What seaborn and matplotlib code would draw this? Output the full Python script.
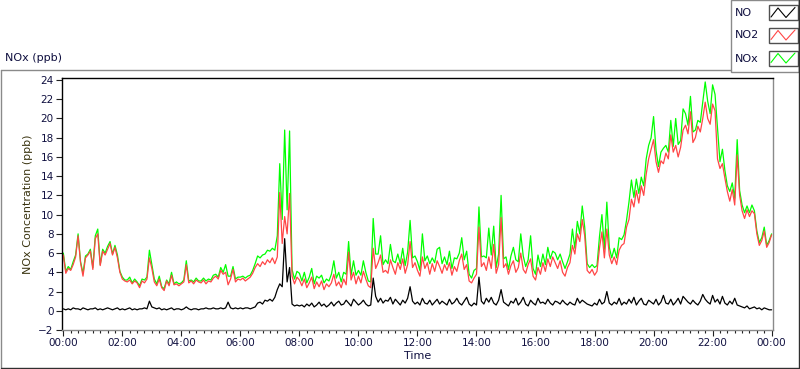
import numpy as np
import pandas as pd
import matplotlib
matplotlib.use("Agg")
import matplotlib.pyplot as plt
from matplotlib.lines import Line2D
from matplotlib.patches import Rectangle
from matplotlib.ticker import MultipleLocator, FuncFormatter
import seaborn as sns

# ---------------------------
# Data: 5-minute readings, 00:00 .. 24:00 (ppb)
# ---------------------------
NO2 = [
    5.8, 3.9, 4.4, 4.2, 4.8, 5.6, 7.8, 5.0, 3.6, 5.5, 5.8, 6.2,
    4.3, 7.5, 8.0, 4.7, 6.2, 5.8, 6.4, 7.0, 5.8, 6.6, 5.5, 4.0,
    3.3, 3.1, 3.0, 3.2, 2.8, 3.1, 2.9, 2.4, 3.1, 2.9, 3.3, 5.5,
    4.4, 3.0, 2.6, 3.3, 2.4, 2.1, 3.1, 2.6, 3.7, 2.7, 2.8, 2.6,
    2.8, 3.0, 4.8, 2.9, 3.1, 2.8, 3.2, 3.0, 2.9, 3.2, 2.8, 3.1,
    3.0, 3.4, 3.6, 3.3, 4.2, 3.8, 4.0, 2.7, 3.3, 4.3, 3.0, 3.3,
    3.2, 3.4, 3.1, 3.3, 3.5, 3.9, 4.5, 4.9, 4.6, 5.1, 4.8, 5.3,
    5.0, 5.5, 4.9, 5.6, 12.3, 7.0, 9.8, 8.0, 12.2, 3.6, 2.8, 3.5,
    3.2, 2.6, 3.3, 2.4, 2.9, 3.5, 2.3, 3.0, 2.5, 3.1, 2.2, 2.8,
    2.5, 2.9, 3.8, 2.6, 3.0, 2.4, 3.3, 2.7, 6.1, 3.2, 4.0, 2.8,
    3.6, 2.9, 4.1, 3.3, 2.6, 2.4, 6.5, 4.4, 5.0, 5.8, 4.0, 4.2,
    3.9, 5.3, 4.5, 3.8, 5.0, 4.3, 5.4, 3.9, 4.8, 7.2, 4.5, 5.0,
    4.2, 3.6, 5.6, 4.4, 5.0, 3.8, 4.9, 4.1, 5.2, 4.6, 3.9, 4.8,
    4.2, 5.0, 3.7, 4.6, 4.1, 5.2, 5.9, 4.3, 4.8, 3.1, 2.9, 3.4,
    3.8, 8.7, 4.6, 5.0, 4.2, 5.6, 4.4, 6.9, 3.9, 4.8, 9.7, 4.5,
    4.9, 3.8, 4.7, 5.2, 4.0, 4.5, 6.0, 4.3, 3.9, 4.8, 5.4, 3.6,
    3.2, 4.5, 3.8, 5.0, 4.1, 5.4, 4.6, 5.6, 5.0, 4.4, 5.2, 4.0,
    3.6, 4.5, 5.0, 6.8, 5.9, 8.0, 7.2, 9.5, 7.8, 4.2, 3.9, 4.3,
    3.7, 4.1, 6.5, 8.2, 5.5, 8.5, 5.8, 4.9, 5.6, 4.8, 6.3, 6.8,
    7.0, 8.7, 9.5, 11.6, 10.8, 12.5, 11.2, 13.0, 12.0, 14.2, 15.8, 16.8,
    17.8, 15.5, 14.4, 15.6, 15.3, 16.4, 15.8, 18.3, 16.5, 17.2, 16.0, 17.0,
    18.8, 19.3, 18.4, 20.7, 17.5, 18.0, 19.2, 18.6, 20.0, 21.7, 20.0, 19.4,
    21.5, 20.8, 15.8, 14.8, 15.3, 13.8, 12.4, 11.4, 12.6, 11.0, 16.2, 12.0,
    10.4, 9.6, 10.5, 9.8, 10.4, 10.1, 8.0, 6.8, 7.3, 8.3, 6.6, 7.1,
    7.9,
]

NOX = [
    6.0, 4.1, 4.6, 4.3, 5.1, 5.8, 8.0, 5.1, 3.9, 5.7, 5.9, 6.4,
    4.5, 7.8, 8.5, 4.8, 6.4, 6.0, 6.7, 7.2, 5.9, 6.8, 5.8, 4.1,
    3.5, 3.2, 3.2, 3.5, 2.9, 3.3, 3.0, 2.6, 3.3, 3.2, 3.5, 6.3,
    4.8, 3.3, 2.8, 3.6, 2.5, 2.3, 3.2, 2.8, 4.0, 2.8, 3.0, 2.8,
    2.9, 3.2, 5.2, 3.1, 3.2, 3.0, 3.4, 3.1, 3.1, 3.4, 3.1, 3.3,
    3.2, 3.7, 3.8, 3.5, 4.5, 4.0, 4.8, 3.6, 3.6, 4.6, 3.3, 3.5,
    3.5, 3.6, 3.4, 3.6, 3.7, 4.2, 4.9, 5.7, 5.5, 5.8, 5.9, 6.3,
    6.2, 6.5, 6.3, 7.8, 15.3, 9.5, 18.8, 10.5, 18.7, 4.3, 3.3, 4.1,
    3.9, 3.1, 4.0, 2.9, 3.5, 4.4, 2.8, 3.6, 3.4, 3.7, 2.9, 3.3,
    3.1, 3.8, 5.2, 3.4, 4.0, 3.0, 4.0, 3.8, 7.2, 3.7, 5.2, 3.7,
    4.2, 3.7, 5.2, 4.0, 3.1, 3.0, 9.6, 5.9, 5.9, 7.8, 4.8, 5.3,
    4.9, 6.9, 5.2, 5.0, 5.9, 4.9, 6.5, 4.7, 6.1, 9.4, 5.5, 5.7,
    5.1, 4.2, 8.0, 5.2, 5.7, 4.9, 5.5, 5.0, 6.4, 6.6, 4.9, 5.6,
    4.8, 6.2, 4.4, 5.5, 5.4, 6.0, 7.6, 5.3, 6.2, 3.8, 3.4, 4.2,
    4.4, 10.8, 5.6, 5.7, 5.5, 8.6, 5.8, 8.8, 4.5, 5.9, 12.0, 5.4,
    5.6, 4.3, 5.7, 6.6, 5.3, 5.1, 8.0, 5.7, 4.6, 5.3, 7.8, 4.4,
    3.8, 5.8, 4.6, 5.9, 4.8, 6.6, 5.4, 6.2, 6.0, 5.3, 5.9, 5.1,
    4.4, 5.1, 5.9, 8.5, 6.5, 9.3, 8.0, 10.9, 8.7, 4.9, 4.5, 4.8,
    4.5, 4.7, 7.7, 10.0, 6.4, 11.3, 6.6, 5.5, 6.5, 5.5, 7.6, 7.4,
    7.9, 9.4, 11.3, 13.6, 11.8, 13.7, 12.2, 13.9, 13.0, 15.8, 17.2, 18.0,
    20.2, 16.7, 15.0, 16.5, 16.9, 17.2, 16.5, 19.8, 17.1, 20.0, 17.3, 17.7,
    21.0, 20.5, 19.3, 22.3, 18.6, 18.8, 19.8, 19.6, 21.7, 23.8, 21.8, 20.5,
    23.5, 22.5, 19.0, 15.5, 16.8, 14.6, 13.0, 12.4, 13.3, 11.7, 17.8, 12.5,
    11.0, 10.2, 10.9, 10.2, 11.0, 10.4, 8.3, 7.1, 7.6, 8.7, 6.8, 7.3,
    8.0,
]

NO = [
    0.2, 0.1, 0.2, 0.1, 0.3, 0.2, 0.2, 0.1, 0.3, 0.2, 0.1, 0.2,
    0.2, 0.3, 0.1, 0.2, 0.1, 0.2, 0.3, 0.2, 0.1, 0.2, 0.3, 0.1,
    0.2, 0.1, 0.2, 0.3, 0.1, 0.2, 0.1, 0.2, 0.2, 0.3, 0.2, 1.0,
    0.4, 0.3, 0.2, 0.3, 0.1, 0.2, 0.1, 0.2, 0.3, 0.1, 0.2, 0.2,
    0.1, 0.2, 0.4, 0.2, 0.1, 0.2, 0.2, 0.1, 0.2, 0.2, 0.3, 0.2,
    0.2, 0.3, 0.2, 0.2, 0.3, 0.2, 0.3, 0.9, 0.3, 0.2, 0.3, 0.2,
    0.3, 0.2, 0.3, 0.3, 0.2, 0.3, 0.4, 0.8, 0.9, 0.7, 1.1, 1.0,
    1.2, 1.0, 1.4, 2.2, 2.8, 2.5, 7.5, 3.0, 4.5, 0.7, 0.5, 0.6,
    0.5, 0.6, 0.4, 0.7, 0.5, 0.8, 0.4, 0.6, 0.9, 0.5, 0.7, 0.4,
    0.6, 0.9, 0.5, 0.8, 1.0, 0.6, 0.7, 1.1, 0.8, 0.5, 1.2, 0.9,
    0.6, 0.8, 1.1, 0.7, 0.5, 0.6, 3.4, 1.5, 0.9, 1.3, 0.8, 1.1,
    1.0, 1.4, 0.7, 1.2, 0.9, 0.6, 1.1, 0.8, 1.3, 2.5, 1.0, 0.7,
    0.9, 0.6, 1.3, 0.8, 0.7, 1.1, 0.6, 0.9, 1.2, 0.7, 1.0, 0.8,
    0.6, 1.2, 0.7, 0.9, 1.3, 0.8, 0.6, 1.0, 1.4, 0.7, 0.5, 0.8,
    0.6, 3.5, 1.0, 0.7, 1.3, 0.9, 1.4, 0.8, 0.6, 1.1, 2.2, 0.9,
    0.7, 0.5, 1.0, 0.8, 1.3, 0.6, 0.9, 1.4, 0.7, 0.5, 1.1, 0.8,
    0.6, 1.3, 0.8, 0.9, 0.7, 1.2, 0.8, 0.6, 1.0, 0.9, 0.7, 1.1,
    0.8, 0.6, 0.9, 0.7, 0.6, 1.3, 0.8, 1.1, 0.9, 0.7, 0.6, 0.5,
    0.8, 0.6, 1.2, 0.7, 0.9, 2.0, 0.8, 0.6, 0.9, 0.7, 1.3, 0.6,
    0.9, 0.7, 1.2, 0.8, 1.4, 0.6, 1.0, 1.3, 0.7, 0.6, 1.1, 0.9,
    0.7, 1.2, 0.6, 0.9, 1.6, 0.8, 0.7, 1.2, 0.6, 0.9, 1.3, 0.7,
    1.5, 1.2, 0.9, 0.7, 1.1, 0.8, 0.6, 1.0, 1.7, 1.2, 0.9, 0.7,
    1.6, 0.9, 1.2, 0.7, 1.5, 0.8, 0.6, 1.0, 0.7, 1.3, 0.6, 0.5,
    0.4, 0.3, 0.5, 0.2, 0.3, 0.4, 0.2, 0.3, 0.1, 0.3, 0.2, 0.1,
    0.1,
]

SERIES_NAMES = ["NO", "NO2", "NOx"]
SERIES_COLORS = {"NO": "#000000", "NO2": "#ff4646", "NOx": "#00ff00"}

W, H = 800, 369


def px_x(x):
    return x / W


def px_y(y):
    return 1 - y / H


def build_frame():
    hours = np.arange(len(NO2)) / 12.0
    parts = []
    for name, vals in zip(SERIES_NAMES, [NO, NO2, NOX]):
        parts.append(pd.DataFrame({"hour": hours, "value": vals, "series": name}))
    return pd.concat(parts, ignore_index=True)


def hhmm(v, pos):
    return "%02d:00" % (int(round(v)) % 24)


def draw_chrome(fig):
    grey = "#8a8a8a"
    # outer panel frame
    fig.add_artist(Line2D([px_x(0.5), px_x(731)], [px_y(69.5), px_y(69.5)], color=grey, lw=1))
    fig.add_artist(Line2D([px_x(0.5), px_x(0.5)], [px_y(69.5), px_y(368)], color=grey, lw=1))
    fig.add_artist(Line2D([px_x(0.5), px_x(798.5)], [px_y(368), px_y(368)], color="#303030", lw=1))
    fig.add_artist(Line2D([px_x(798.5), px_x(798.5)], [px_y(0), px_y(368)], color="#303030", lw=1))

    # legend box
    fig.add_artist(Rectangle((px_x(731), px_y(71.5)), px_x(67.5), 71.5 / H,
                             facecolor="white", edgecolor=grey, lw=1))
    fig.add_artist(Line2D([px_x(798.5), px_x(798.5)], [px_y(0), px_y(71.5)], color="#303030", lw=1))
    rows = [("NO", 12.5, 5), ("NO2", 35.5, 27.5), ("NOx", 59, 50.5)]
    for name, ty, top in rows:
        fig.text(px_x(735), px_y(ty), name, fontsize=8, color="#101040",
                 ha="left", va="center")
        fig.add_artist(Rectangle((px_x(768.5), px_y(top + 15)), px_x(29), 15 / H,
                                 facecolor="white", edgecolor="#505050", lw=1))
        zx = [771, 778, 786, 795]
        zy = [top + 12, top + 3, top + 12.5, top + 2.5]
        fig.add_artist(Line2D([px_x(v) for v in zx], [px_y(v) for v in zy],
                              color=SERIES_COLORS[name], lw=0.8))

    fig.text(px_x(5), px_y(58), "NOx (ppb)", fontsize=8, color="#101040",
             ha="left", va="center")


def plot_chart(df, out="out.png"):
    sns.set_style("white")
    plt.rcParams["font.family"] = ["DejaVu Sans"]

    fig = plt.figure(figsize=(W / 100, H / 100), dpi=100)
    ax = fig.add_axes([62 / W, 1 - 330 / H, (772.5 - 62) / W, (330 - 78.3) / H])

    sns.lineplot(data=df, x="hour", y="value", hue="series",
                 hue_order=["NOx", "NO2", "NO"], palette=SERIES_COLORS,
                 estimator=None, sort=False, legend=False, linewidth=0.9, ax=ax)

    ax.set_xlim(-0.045, 24.03)
    ax.set_ylim(-2, 24.18)
    ax.xaxis.set_major_locator(MultipleLocator(2))
    ax.xaxis.set_minor_locator(MultipleLocator(0.25))
    ax.xaxis.set_major_formatter(FuncFormatter(hhmm))
    ax.yaxis.set_major_locator(MultipleLocator(2))

    tick_col = "#101040"
    ax.tick_params(axis="both", which="major", direction="out", length=4, width=0.8,
                   color="#202020", labelsize=7.5, labelcolor=tick_col, pad=2)
    ax.tick_params(axis="x", which="minor", direction="out", length=2.5, width=0.8,
                   color="#202020")
    ax.tick_params(axis="x", which="both", bottom=True)
    ax.tick_params(axis="y", which="major", left=True)

    for side, col in [("top", "black"), ("left", "black"),
                      ("right", "#8a8a8a"), ("bottom", "#8a8a8a")]:
        ax.spines[side].set_visible(True)
        ax.spines[side].set_color(col)
        ax.spines[side].set_linewidth(1)

    ax.set_xlabel("Time", fontsize=8, color=tick_col, labelpad=2)
    ax.set_ylabel("NOx Concentration (ppb)", fontsize=8, color="#3a3410", labelpad=4)

    draw_chrome(fig)
    fig.savefig(out, dpi=100, facecolor="white")
    plt.close(fig)


if __name__ == "__main__":
    frame = build_frame()
    plot_chart(frame)
